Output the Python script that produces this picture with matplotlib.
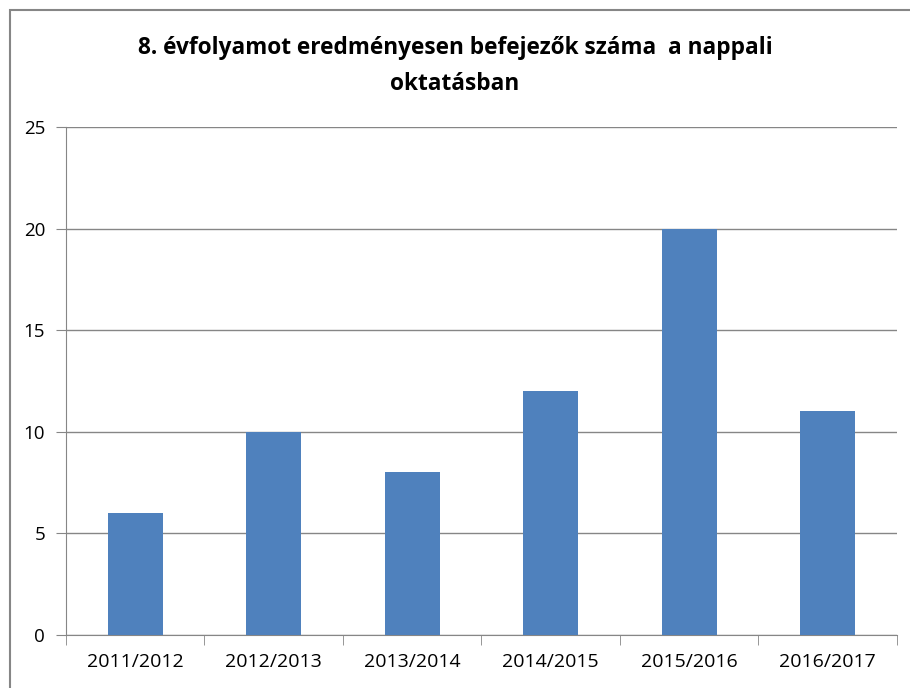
import matplotlib.pyplot as plt
from matplotlib.patches import Rectangle

years = ["2011/2012", "2012/2013", "2013/2014", "2014/2015", "2015/2016", "2016/2017"]
counts = [6, 10, 8, 12, 20, 11]

plt.rcParams['font.family'] = ['Open Sans', 'DejaVu Sans']

fig = plt.figure(figsize=(9.1, 6.88), dpi=100)
ax = fig.add_axes([0.0725, 0.077, 0.9132, 0.7384])

# outer chart border
fig.patches.append(Rectangle((10 / 910, -0.1), 1.2, 1 - 10 / 688 + 0.1, transform=fig.transFigure,
                             fill=False, edgecolor="#868686", linewidth=1.5))

x = range(len(years))
ax.bar(x, counts, width=0.4, color="#4F81BD", zorder=3)

ax.set_xlim(-0.5, len(years) - 0.5)
ax.set_ylim(0, 25)
ax.set_yticks(range(0, 26, 5))
ax.set_xticks(list(x))
ax.set_xticklabels(years)
ax.set_xticks([i - 0.5 for i in range(len(years) + 1)], minor=True)
ax.tick_params(axis="x", which="major", length=0, pad=13, labelsize=14)
ax.tick_params(axis="x", which="minor", length=7, color="#868686")
ax.tick_params(axis="y", length=7, color="#868686", labelsize=13.5, pad=8)
ax.grid(axis="y", color="#868686", linewidth=1, zorder=0)

for s in ["top", "right"]:
    ax.spines[s].set_visible(False)
for s in ["left", "bottom"]:
    ax.spines[s].set_color("#868686")

fig.text(0.5, 0.904, "8. évfolyamot eredményesen befejezők száma  a nappali\noktatásban",
         ha="center", va="center", fontsize=16.3, fontweight="bold", linespacing=1.65)

fig.savefig("out.png", dpi=100)
